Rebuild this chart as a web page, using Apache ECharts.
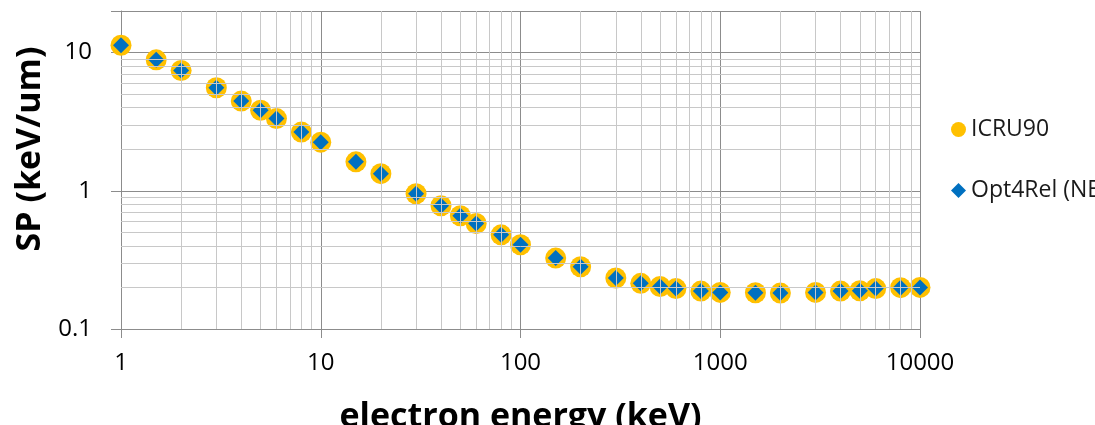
<!DOCTYPE html>
<html>
<head>
<meta charset="utf-8">
<script src="https://cdn.jsdelivr.net/npm/echarts@6/dist/echarts.min.js"></script>
<style>
  html, body { margin: 0; padding: 0; background: #fff; }
  #chart { width: 1095px; height: 425px; }
</style>
</head>
<body>
<div id="chart"></div>
<script>
// electron energy (keV)
const energies = [1, 1.5, 2, 3, 4, 5, 6, 8, 10, 15, 20, 30, 40, 50, 60, 80, 100, 150, 200,
  300, 400, 500, 600, 800, 1000, 1500, 2000, 3000, 4000, 5000, 6000, 8000, 10000];
// stopping power (keV/um)
const icru90 = [11.3, 8.86, 7.42, 5.57, 4.46, 3.83, 3.33, 2.66, 2.25, 1.62, 1.33, 0.952, 0.78, 0.66, 0.58,
  0.48, 0.407, 0.326, 0.282, 0.234, 0.214, 0.203, 0.196, 0.188, 0.184, 0.183, 0.182, 0.184,
  0.188, 0.189, 0.196, 0.199, 0.2];
const opt4rel = [11.3, 8.86, 7.42, 5.57, 4.46, 3.83, 3.33, 2.66, 2.25, 1.62, 1.33, 0.952, 0.78, 0.66, 0.58,
  0.48, 0.407, 0.326, 0.282, 0.234, 0.214, 0.203, 0.196, 0.188, 0.184, 0.183, 0.182, 0.184,
  0.188, 0.189, 0.196, 0.199, 0.2];
const seriesNames = ['ICRU90', 'Opt4Rel (NEB)'];
const xDecades = [1, 10, 100, 1000];
const yDecades = [0.1, 1];
const minorSteps = [2, 3, 4, 5, 6, 7, 8, 9];

const minorLines = [];
xDecades.forEach(d => minorSteps.forEach(m => minorLines.push({ xAxis: +(d * m).toPrecision(6) })));
yDecades.forEach(d => minorSteps.forEach(m => minorLines.push({ yAxis: +(d * m).toPrecision(6) })));

const pair = (xs, ys) => xs.map((x, i) => [x, ys[i]]);
const isDecade = v => Math.abs(Math.log10(v) - Math.round(Math.log10(v))) < 1e-6;

const font = '"Open Sans", "Liberation Sans", sans-serif';
const majorColor = '#8c8c8c';
const minorColor = '#c8c8c8';

const chart = echarts.init(document.getElementById('chart'), null, { renderer: 'canvas' });
const option = {
  animation: false,
  textStyle: { fontFamily: font },
  grid: { left: 121, right: 175, top: 11, bottom: 96, containLabel: false, outerBoundsMode: 'none' },
  legend: {
    orient: 'vertical',
    left: 951,
    top: 118,
    padding: 0,
    itemWidth: 15,
    itemHeight: 15,
    itemGap: 38,
    textStyle: { fontSize: 23, color: '#1a1a1a', fontFamily: font },
    data: [
      { name: seriesNames[0], icon: 'circle' },
      { name: seriesNames[1], icon: 'diamond' }
    ]
  },
  xAxis: {
    type: 'log',
    logBase: 10,
    min: 1,
    max: 10000,
    name: 'electron energy (keV)',
    nameLocation: 'middle',
    nameGap: 71,
    nameTextStyle: { fontSize: 34, fontWeight: 'bold', color: '#000', fontFamily: font },
    axisLine: { show: true, lineStyle: { color: majorColor } },
    axisTick: { show: true, inside: false, length: 9, lineStyle: { color: majorColor } },
    axisLabel: { fontSize: 24, color: '#000', margin: 22, formatter: v => isDecade(v) ? String(v) : '' },
    splitLine: { show: true, lineStyle: { color: majorColor, width: 1 } }
  },
  yAxis: {
    type: 'log',
    logBase: 10,
    min: 0.1,
    max: 20,
    name: 'SP (keV/um)',
    nameLocation: 'middle',
    nameGap: 72,
    nameTextStyle: { fontSize: 34, fontWeight: 'bold', color: '#000', fontFamily: font, padding: [0, 0, 0, 42] },
    axisLine: { show: true, lineStyle: { color: majorColor } },
    axisTick: { show: true, inside: false, length: 10, lineStyle: { color: majorColor } },
    axisLabel: { fontSize: 24, color: '#000', margin: 29, formatter: v => isDecade(v) ? String(+v.toPrecision(6)) : '' },
    splitLine: { show: true, lineStyle: { color: majorColor, width: 1 } }
  },
  series: [
    {
      name: 'minor grid',
      type: 'line',
      data: [],
      z: 1,
      silent: true,
      markLine: {
        silent: true,
        symbol: 'none',
        label: { show: false },
        lineStyle: { color: minorColor, width: 1, type: 'solid' },
        data: minorLines
      }
    },
    {
      name: seriesNames[0],
      type: 'scatter',
      symbol: 'circle',
      symbolSize: 21,
      z: 3,
      itemStyle: { color: '#FFC000', opacity: 1 },
      data: pair(energies, icru90)
    },
    {
      name: seriesNames[1],
      type: 'scatter',
      symbol: 'diamond',
      symbolSize: 16,
      z: 4,
      itemStyle: { color: '#0070C0', opacity: 1 },
      data: pair(energies, opt4rel)
    }
  ]
};
chart.setOption(option);
</script>
</body>
</html>
